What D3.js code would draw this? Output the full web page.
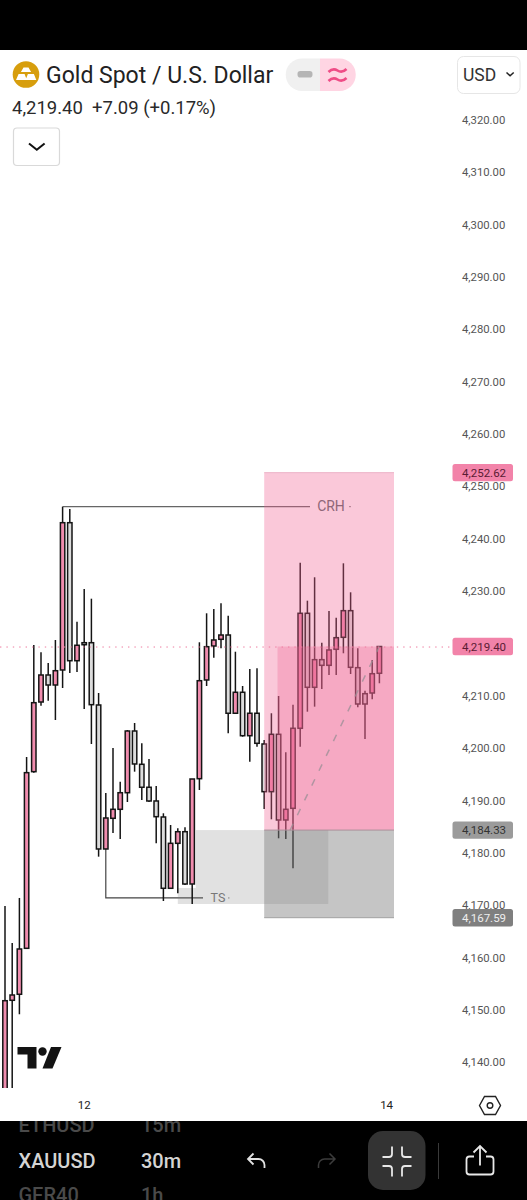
<!DOCTYPE html>
<html><head><meta charset="utf-8">
<script src="https://cdn.jsdelivr.net/npm/d3@7"></script>
<style>html,body{margin:0;padding:0;background:#000}svg{display:block}text{font-family:Roboto,sans-serif}</style>
</head><body><svg id="c" width="527" height="1200"></svg>
<script>
const opens=[4130.85,4151.81,4152.96,4161.74,4195.49,4208.80,4213.96,4212.05,4214.92,4243.06,4216.69,4220.13,4220.13,4208.23,4180.72,4186.58,4188.30,4191.47,4203.26,4196.90,4192.51,4189.89,4186.83,4173.21,4181.80,4184.02,4174.03,4194.15,4213.01,4219.50,4220.78,4221.60,4206.65,4210.66,4202.36,4206.65,4200.78,4191.67,4202.63,4186.26,4188.49,4203.78,4225.75,4211.61,4216.89,4215.81,4218.87,4221.16,4226.25,4215.36,4210.39,4210.52,4214.29];
const highs=[4169.83,4162.76,4171.36,4198.29,4219.69,4218.30,4216.25,4220.65,4246.12,4245.68,4224.15,4230.39,4228.54,4210.52,4191.42,4200.01,4193.58,4203.45,4204.79,4200.91,4197.91,4192.75,4187.54,4185.30,4184.67,4184.86,4194.09,4220.21,4225.75,4226.57,4227.66,4225.29,4218.41,4211.86,4215.11,4215.24,4201.54,4206.65,4209.95,4199.19,4208.29,4235.42,4228.16,4232.63,4220.13,4226.19,4224.91,4235.30,4229.76,4219.06,4210.96,4216.83,4219.50];
const lows=[4128.94,4132.76,4149.14,4161.61,4195.30,4208.10,4209.05,4205.36,4211.48,4214.34,4214.53,4207.47,4200.78,4179.25,4180.72,4183.77,4182.63,4189.70,4195.49,4190.08,4189.70,4181.80,4170.78,4173.07,4172.25,4173.84,4170.21,4191.99,4211.86,4217.27,4219.06,4202.82,4206.65,4202.17,4197.40,4200.26,4188.36,4186.39,4182.76,4182.63,4177.03,4200.26,4206.95,4207.91,4211.29,4213.96,4213.96,4218.11,4214.15,4207.79,4201.73,4209.32,4212.38];
const closes=[4151.73,4152.82,4161.61,4195.30,4208.67,4213.96,4212.05,4214.78,4243.06,4216.69,4219.64,4219.75,4208.29,4180.72,4186.64,4188.30,4191.47,4203.26,4196.96,4192.51,4189.89,4186.89,4173.21,4181.80,4184.02,4174.03,4194.09,4212.87,4219.37,4220.65,4221.60,4206.65,4210.66,4202.36,4206.65,4200.91,4191.67,4202.63,4186.26,4188.30,4203.78,4225.75,4211.61,4216.89,4215.81,4218.74,4221.09,4226.25,4215.43,4208.42,4208.42,4214.21,4219.40];
const priceTicks=[4320,4310,4300,4290,4280,4270,4260,4250,4240,4230,4210,4200,4190,4180,4170,4160,4150,4140];
const timeTicks=[{i:11,label:"12"},{i:53,label:"14"}];
const lastPrice=4219.40, changeText="+7.09 (+0.17%)";
const zoneTop=4252.62, zoneMid=4184.33, zoneBottom=4167.59, tsZoneBottom=4170.21;
const crhPrice=4246.12, tsPrice=4171.36;
const priceTags=[4252.62,4219.40,4184.33,4167.59];
const tagFill=["#f283a9","#f283a9","#9b9b9b","#7f7f7f"], tagText=["#5a1c34","#5a1c34","#333333","#eeeeee"];
const symbols=[{s:"ETHUSD",t:"15m",c:"#4a4a4a",y:1132},{s:"XAUUSD",t:"30m",c:"#d4d4d4",y:1168},{s:"GER40",t:"1h",c:"#4a4a4a",y:1202}];

const svg=d3.select("#c");
const x=d3.scaleLinear().domain([0,53]).range([5,386.6]);
const y=d3.scaleLinear().domain([4320,4140]).range([120,1062.1]);
const P="#f08cae", G="#dcdcdc";

svg.append("rect").attr("y",50).attr("width",527).attr("height",1071).attr("fill","#fff");
svg.append("defs").append("clipPath").attr("id","clip").append("rect").attr("x",0).attr("y",50).attr("width",452).attr("height",1038);
const plot=svg.append("g").attr("clip-path","url(#clip)");

// last-price dotted line
svg.append("line").attr("x1",0).attr("x2",450).attr("y1",y(lastPrice)+.5).attr("y2",y(lastPrice)+.5)
  .attr("stroke","#ee7b9f").attr("stroke-width",1).attr("stroke-dasharray","1.4 5");

// guide lines
const lg=plot.append("g");
lg.append("path").attr("d",`M${x(8)},${y(crhPrice)}H310`).attr("fill","none").attr("stroke","#666").attr("stroke-width",1.2);
lg.append("path").attr("d",`M349,${y(crhPrice)}H351`).attr("stroke","#888").attr("stroke-width",1);
lg.append("path").attr("d",`M${x(14)},${y(4180.72)}V${y(tsPrice)}H203`).attr("fill","none").attr("stroke","#444").attr("stroke-width",1.2);
lg.append("path").attr("d",`M228,${y(tsPrice)}H229.5`).attr("stroke","#888").attr("stroke-width",1);

// light-gray zone (under candles)
plot.append("rect").attr("x",x(26.5)).attr("width",x(44.9)-x(26.5)).attr("y",y(zoneMid)).attr("height",y(tsZoneBottom)-y(zoneMid)).attr("fill","rgba(128,128,128,.24)");
plot.append("rect").attr("x",x(24)).attr("width",x(26.5)-x(24)).attr("y",888).attr("height",y(tsZoneBottom)-888).attr("fill","rgba(128,128,128,.24)");

// candles
const idx=d3.range(opens.length);
const cg=plot.append("g").attr("stroke","#141414");
cg.selectAll("line.w").data(idx).join("line").attr("class","w")
  .attr("x1",i=>x(i)).attr("x2",i=>x(i)).attr("y1",i=>y(highs[i])).attr("y2",i=>y(lows[i])).attr("stroke-width",1.5);
cg.selectAll("rect.b").data(idx).join("rect").attr("class","b")
  .attr("x",i=>x(i)-2.2).attr("width",4.4)
  .attr("y",i=>y(Math.max(opens[i],closes[i])))
  .attr("height",i=>Math.max(1,Math.abs(y(opens[i])-y(closes[i]))))
  .attr("fill",i=>closes[i]>=opens[i]?P:G).attr("stroke-width",1.5);

// translucent zones over candles
plot.append("rect").attr("x",x(36)).attr("width",394-x(36)).attr("y",y(zoneTop)).attr("height",y(zoneMid)-y(zoneTop)).attr("fill","rgba(240,98,146,.35)");
plot.append("rect").attr("x",x(37.85)).attr("width",394-x(37.85)).attr("y",y(lastPrice)).attr("height",y(zoneMid)-y(lastPrice)).attr("fill","rgba(240,98,146,.3)");
plot.append("rect").attr("x",x(36)).attr("width",394-x(36)).attr("y",y(zoneMid)).attr("height",y(zoneBottom)-y(zoneMid)).attr("fill","rgba(128,128,128,.46)");
plot.append("line").attr("x1",x(36)).attr("x2",394).attr("y1",y(zoneMid)).attr("y2",y(zoneMid)).attr("stroke","#aa8f99").attr("stroke-width",1);
plot.append("line").attr("x1",x(36)).attr("x2",394).attr("y1",y(zoneBottom)).attr("y2",y(zoneBottom)).attr("stroke","#a0a0a0").attr("stroke-width",1);
plot.append("line").attr("x1",x(36)).attr("x2",394).attr("y1",y(zoneTop)).attr("y2",y(zoneTop)).attr("stroke","#ecb4c8").attr("stroke-width",1);

// dashed projection
plot.append("line").attr("x1",x(39.6)).attr("y1",y(4184.33)).attr("x2",x(52)).attr("y2",y(lastPrice))
  .attr("stroke","#9a8f96").attr("stroke-width",1.5).attr("stroke-dasharray","7 9.5").attr("opacity",.75);

// labels on guides
svg.append("text").attr("x",331).attr("y",y(crhPrice)+4.8).attr("text-anchor","middle").attr("font-size",14).attr("fill","#8f6678").text("CRH");
svg.append("text").attr("x",218).attr("y",y(tsPrice)+4.5).attr("text-anchor","middle").attr("font-size",12.5).attr("fill","#777").text("TS");

// price axis
const ya=svg.append("g").attr("transform","translate(462,0)").call(d3.axisRight(y).tickValues(priceTicks).tickFormat(d3.format(",.2f")).tickSize(0).tickPadding(0));
ya.select(".domain").remove();
ya.selectAll("text").attr("font-size",11.3).attr("fill","#555").attr("font-family","Roboto");

// tags
const tg=svg.selectAll("g.tag").data(priceTags).join("g").attr("class","tag");
tg.append("rect").attr("x",452.5).attr("width",60.5).attr("y",d=>y(d)-8.7).attr("height",17.4).attr("rx",2.5).attr("fill",(d,i)=>tagFill[i]);
tg.append("text").attr("x",462).attr("y",d=>y(d)+4).attr("font-size",11.5).attr("fill",(d,i)=>tagText[i]).text(d=>d3.format(",.2f")(d));

// time axis
const xa=svg.append("g").attr("transform","translate(-0.5,1105)").call(d3.axisBottom(x).tickValues(timeTicks.map(d=>d.i)).tickFormat(i=>timeTicks.find(d=>d.i===i).label).tickSize(0).tickPadding(0));
xa.select(".domain").remove();
xa.selectAll("text").attr("font-size",11.5).attr("fill","#222").attr("font-family","Roboto").attr("dy",null).attr("y",4);
svg.append("path").attr("d","M479.5,1105.5l5,-9h11l5,9l-5,9h-11z").attr("fill","none").attr("stroke","#222").attr("stroke-width",1.4);
svg.append("circle").attr("cx",490).attr("cy",1105.5).attr("r",2.8).attr("fill","none").attr("stroke","#222").attr("stroke-width",1.4);

// TradingView mark
const tv=svg.append("g").attr("fill","#131313");
tv.append("path").attr("d","M17.5,1047H36.5V1068.5H27.5V1054.5H17.5z");
tv.append("circle").attr("cx",42.5).attr("cy",1051.5).attr("r",4.2);
tv.append("path").attr("d","M51,1047H61.5L52.5,1068.5H42.5z");

// header
const head=svg.append("g");
head.append("circle").attr("cx",26).attr("cy",74.5).attr("r",13.3).attr("fill","#d79e0d");
head.append("path").attr("fill","#fff").attr("d","M23.5,67.5h5l2.6,4.6h-10.2zM16,80l2.6,-6h6l2.2,6zM25.5,80l2.4,-6h6l2.4,6z");
head.append("text").attr("x",46).attr("y",83).attr("font-size",23).attr("fill","#222").text("Gold Spot / U.S. Dollar");
head.append("text").attr("x",12).attr("y",113.5).attr("font-size",18.5).attr("fill","#2a2a2a").text(d3.format(",.2f")(lastPrice));
head.append("text").attr("x",92).attr("y",113.5).attr("font-size",18.5).attr("fill","#2a2a2a").text(changeText);
head.append("path").attr("d","M302,58.5H320V91H302a16.2,16.2,0,0,1,0-32.5z").attr("fill","#f0f0f0");
head.append("path").attr("d","M320,58.5H339.5a16.2,16.2,0,0,1,0,32.5H320z").attr("fill","#ffd5e3");
head.append("rect").attr("x",297.5).attr("y",71).attr("width",15).attr("height",6.5).attr("rx",2.8).attr("fill","#b5b5b5");
head.append("path").attr("d","M328.5,72q4.5,-4.5 9,-1.5t9,-1.5M328.5,81q4.5,-4.5 9,-1.5t9,-1.5").attr("fill","none").attr("stroke","#ef4c86").attr("stroke-width",2.6);
head.append("rect").attr("x",457.5).attr("y",56.5).attr("width",62.5).attr("height",37).attr("rx",6).attr("fill","#fff").attr("stroke","#e6e6e6");
head.append("text").attr("x",463).attr("y",80.5).attr("font-size",17.5).attr("fill","#333").text("USD");
head.append("path").attr("d","M506.5,72.5l3.6,3.3l3.6,-3.3").attr("fill","none").attr("stroke","#222").attr("stroke-width",1.5);
head.append("rect").attr("x",13.5).attr("y",128).attr("width",46).attr("height",37.5).attr("rx",3.5).attr("fill","#fff").attr("stroke","#d9d9d9").attr("stroke-width",1.2);
head.append("path").attr("d","M29,143.5l7.8,6.2l7.8,-6.2").attr("fill","none").attr("stroke","#111").attr("stroke-width",2.1);

// bottom bar
const bar=svg.append("g");
svg.select("defs").append("clipPath").attr("id","barclip").append("rect").attr("y",1121).attr("width",527).attr("height",79);
const sy=bar.append("g").attr("clip-path","url(#barclip)");
symbols.forEach(d=>{
  sy.append("text").attr("x",18.5).attr("y",d.y).attr("font-size",20).attr("font-weight",500).attr("fill",d.c).text(d.s);
  sy.append("text").attr("x",141).attr("y",d.y).attr("font-size",20).attr("font-weight",500).attr("fill",d.c).text(d.t);
});
bar.append("path").attr("d","M264.5,1168v-3a6,6 0 0 0 -6,-6h-10.5M253.5,1153.5l-5.5,5.5l5.5,5.5").attr("fill","none").attr("stroke","#e2e2e2").attr("stroke-width",1.8);
bar.append("path").attr("d","M318.5,1168v-3a6,6 0 0 1 6,-6h10.5M329.5,1153.5l5.5,5.5l-5.5,5.5").attr("fill","none").attr("stroke","#3c3c3c").attr("stroke-width",1.5);
bar.append("rect").attr("x",368).attr("y",1131).attr("width",57.5).attr("height",59).attr("rx",15).attr("fill","#333");
bar.append("path").attr("d","M382.5,1157h6.5a3,3 0 0 0 3,-3v-7.5M411.5,1157h-6.5a3,3 0 0 1 -3,-3v-7.5M382.5,1166h6.5a3,3 0 0 1 3,3v7.5M411.5,1166h-6.5a3,3 0 0 0 -3,3v7.5").attr("fill","none").attr("stroke","#e8e8e8").attr("stroke-width",1.8);
bar.append("line").attr("x1",438.5).attr("x2",438.5).attr("y1",1143).attr("y2",1179).attr("stroke","#3a3a3a");
bar.append("path").attr("d","M474,1156.5h-4.5a3,3 0 0 0 -3,3v12a3,3 0 0 0 3,3h21a3,3 0 0 0 3,-3v-12a3,3 0 0 0 -3,-3h-4.5M480,1165.5V1146M473.5,1152.5l6.5,-6.5l6.5,6.5").attr("fill","none").attr("stroke","#e8e8e8").attr("stroke-width",1.8);
</script></body></html>
